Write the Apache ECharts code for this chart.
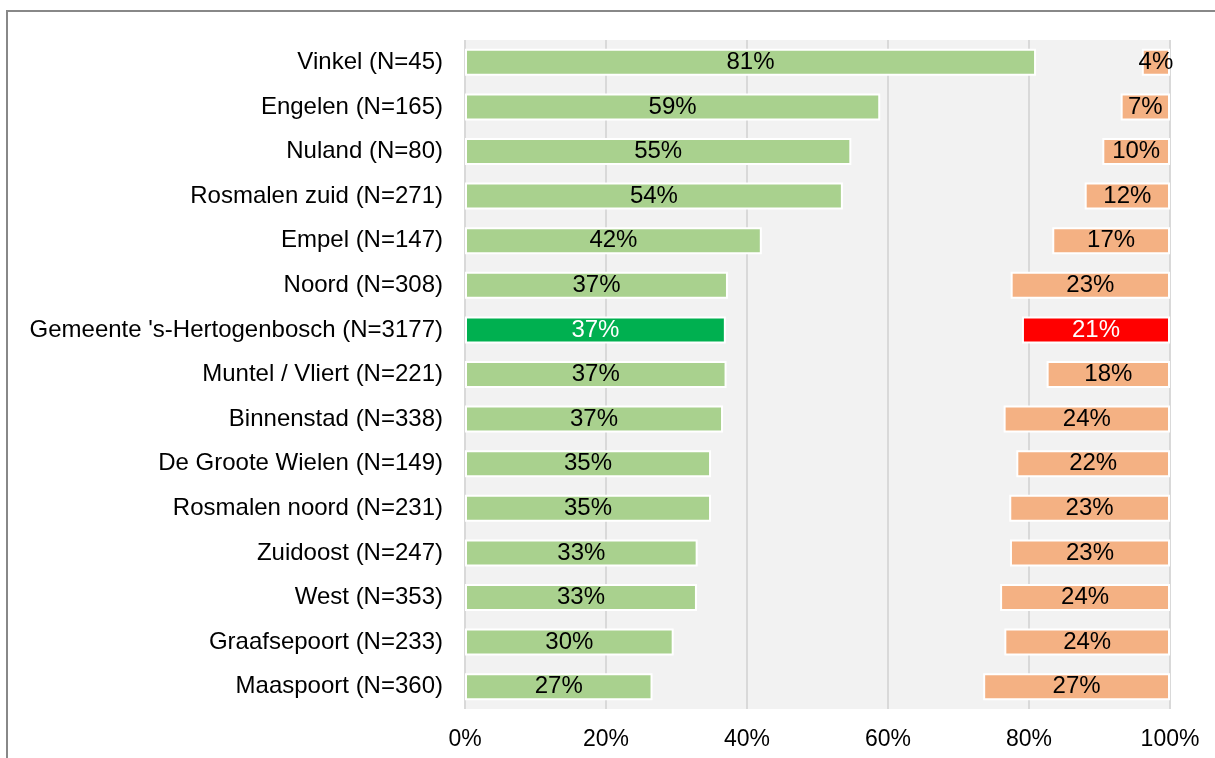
<!DOCTYPE html>
<html>
<head>
<meta charset="utf-8">
<script src="https://cdn.jsdelivr.net/npm/echarts@6/dist/echarts.min.js"></script>
<style>
  html, body { margin: 0; padding: 0; background: #fff; }
  #chart { width: 1215px; height: 758px; }
</style>
</head>
<body>
<div id="chart"></div>
<script>
const wijken = [
  'Vinkel (N=45)', 'Engelen (N=165)', 'Nuland (N=80)', 'Rosmalen zuid (N=271)',
  'Empel (N=147)', 'Noord (N=308)', "Gemeente 's-Hertogenbosch (N=3177)",
  'Muntel / Vliert (N=221)', 'Binnenstad (N=338)', 'De Groote Wielen (N=149)',
  'Rosmalen noord (N=231)', 'Zuidoost (N=247)', 'West (N=353)',
  'Graafsepoort (N=233)', 'Maaspoort (N=360)'
]
// groen deel (links) en oranje deel (rechts), in procenten
const positief = [81.0, 58.9, 54.8, 53.6, 42.1, 37.3, 37.0, 37.1, 36.6, 34.9, 34.9, 33.0, 32.9, 29.6, 26.6]
const negatief = [4.0, 7.0, 9.6, 12.1, 16.7, 22.6, 21.0, 17.5, 23.6, 21.8, 22.8, 22.7, 24.1, 23.5, 26.5]
const gemeenteIdx = 6

const tx = '#000'
const grid = '#d9d9d9'
const font = 'Liberation Sans, Arial, sans-serif'

const chart = echarts.init(document.getElementById('chart'))

const lbl = (color) => ({
  show: true, position: 'inside', color, fontSize: 24, fontFamily: font,
  formatter: p => Math.round(p.value) + '%'
})

chart.setOption({
  animation: false,
  textStyle: { fontFamily: font },
  grid: {
    left: 465, right: 45, top: 40, bottom: 49,
    show: true, backgroundColor: '#f2f2f2', borderWidth: 0
  },
  xAxis: {
    type: 'value', min: 0, max: 100, interval: 20,
    axisLabel: { formatter: '{value}%', color: tx, fontSize: 23, margin: 19, fontFamily: font },
    axisLine: { show: false }, axisTick: { show: false },
    splitLine: { show: true, lineStyle: { color: grid, width: 2 } }
  },
  yAxis: {
    type: 'category', data: wijken, inverse: true,
    axisLabel: { color: tx, fontSize: 24, margin: 22, fontFamily: font },
    axisLine: { show: false }, axisTick: { show: false }
  },
  series: [
    {
      name: 'positief', type: 'bar', stack: 'a', barWidth: 27,
      itemStyle: { color: '#a9d18e', borderColor: '#fff', borderWidth: 2 },
      label: lbl(tx),
      data: positief.map((v, i) => i === gemeenteIdx
        ? { value: v, itemStyle: { color: '#00b050' }, label: { color: '#fff' } }
        : v)
    },
    {
      name: 'rest', type: 'bar', stack: 'a', silent: true,
      itemStyle: { color: 'transparent' },
      data: positief.map((v, i) => 100 - v - negatief[i])
    },
    {
      name: 'negatief', type: 'bar', stack: 'a',
      itemStyle: { color: '#f4b183', borderColor: '#fff', borderWidth: 2 },
      label: lbl(tx),
      data: negatief.map((v, i) => i === gemeenteIdx
        ? { value: v, itemStyle: { color: '#ff0000' }, label: { color: '#fff' } }
        : v)
    }
  ],
  graphic: [
    { type: 'line', shape: { x1: 7, y1: 11, x2: 1215, y2: 11 }, style: { stroke: '#888', lineWidth: 2 } },
    { type: 'line', shape: { x1: 7, y1: 10, x2: 7, y2: 758 }, style: { stroke: '#888', lineWidth: 2 } }
  ]
})
</script>
</body>
</html>
